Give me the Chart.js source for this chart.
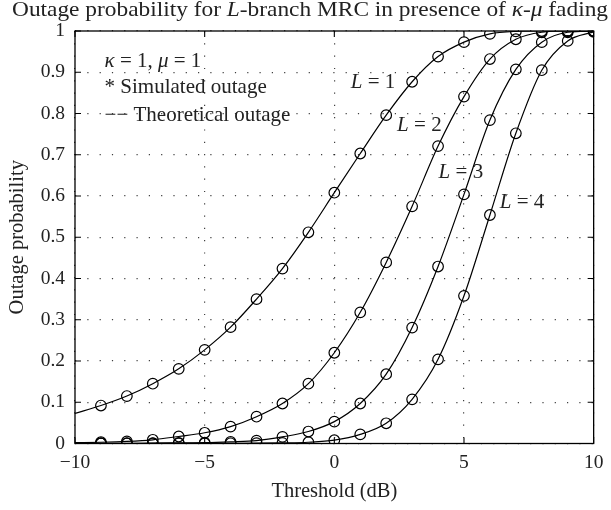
<!DOCTYPE html>
<html>
<head>
<meta charset="utf-8">
<script src="https://cdn.jsdelivr.net/npm/chart.js@4.4.1/dist/chart.umd.min.js"></script>
<style>
  html, body { margin: 0; padding: 0; background: #fff; }
  #wrap { width: 611px; height: 510px; }
</style>
</head>
<body>
<div id="wrap"><canvas id="c" width="611" height="510"></canvas></div>
<script>
// ---- data ----
const thresholds = [-10,-9,-8,-7,-6,-5,-4,-3,-2,-1,0,1,2,3,4,5,6,7,8,9,10];
const outageL1 = [0.073,0.092,0.115,0.145,0.181,0.227,0.282,0.350,0.424,0.512,0.608,0.703,0.796,0.877,0.938,0.973,0.993,0.999,1.0,1.0,1.0];
const outageL2 = [0.002,0.003,0.005,0.009,0.017,0.026,0.041,0.065,0.097,0.145,0.220,0.318,0.439,0.575,0.721,0.841,0.932,0.980,0.997,1.0,1.0];
const outageL3 = [0.0003,0.0004,0.0006,0.001,0.0015,0.002,0.004,0.007,0.016,0.029,0.053,0.097,0.168,0.281,0.429,0.604,0.784,0.907,0.973,0.997,1.0];
const outageL4 = [0.0,0.0,0.0,0.0001,0.0002,0.0003,0.0005,0.0008,0.0015,0.003,0.008,0.022,0.049,0.107,0.204,0.358,0.554,0.752,0.905,0.976,0.998];
const xTicks = [-10,-5,0,5,10];
const xTickLabels = ['\u221210','\u22125','0','5','10'];
const yTicks = [0,0.1,0.2,0.3,0.4,0.5,0.6,0.7,0.8,0.9,1];
const yTickLabels = ['0','0.1','0.2','0.3','0.4','0.5','0.6','0.7','0.8','0.9','1'];
const series = [outageL1, outageL2, outageL3, outageL4];
const curveLabels = ['L = 1','L = 2','L = 3','L = 4'];
// label anchor positions in data units (threshold dB, probability)
const curveLabelX = [1.49, 3.28, 4.88, 7.24];
const curveLabelY = [0.876, 0.772, 0.656, 0.585];
const legendX = -8.86;
const legendY = [0.925, 0.862, 0.796];

const FONT = '"Liberation Serif", "Times New Roman", serif';

const datasets = [];
series.forEach((vals, k) => {
  datasets.push({
    label: 'Theoretical ' + curveLabels[k],
    data: thresholds.map((x, i) => ({x: x, y: vals[i]})),
    showLine: true,
    borderColor: '#000',
    borderWidth: 1.2,
    pointRadius: 0,
    cubicInterpolationMode: 'monotone',
    fill: false,
    order: 2
  });
});
series.forEach((vals, k) => {
  datasets.push({
    label: 'Simulated ' + curveLabels[k],
    data: thresholds.slice(1).map((x, i) => ({x: x, y: vals[i + 1]})),
    showLine: false,
    borderColor: '#000',
    backgroundColor: 'rgba(0,0,0,0)',
    borderWidth: 1.2,
    pointRadius: 5.3,
    pointStyle: 'circle',
    order: 1
  });
});

function drawSegs(ctx, segs, x, y, size, align, targetWidth, baseline) {
  let total = 0;
  const fonts = segs.map(s => (s[1] ? 'italic ' : '') + size + 'px ' + FONT);
  segs.forEach((s, i) => { ctx.font = fonts[i]; total += ctx.measureText(s[0]).width; });
  const sx = targetWidth ? targetWidth / total : 1;
  ctx.save();
  ctx.translate(x, y);
  ctx.scale(sx, 1);
  let cx = align === 'center' ? -total / 2 : 0;
  ctx.textAlign = 'left';
  ctx.textBaseline = baseline || 'middle';
  segs.forEach((s, i) => {
    ctx.font = fonts[i];
    ctx.fillText(s[0], cx, 0);
    cx += ctx.measureText(s[0]).width;
  });
  ctx.restore();
}

const decorPlugin = {
  id: 'decor',
  afterDatasetsDraw(chart) {
    const {ctx, chartArea: a, scales: {x, y}} = chart;
    ctx.save();
    // frame
    ctx.strokeStyle = '#000';
    ctx.lineWidth = 1.3;
    ctx.setLineDash([]);
    ctx.strokeRect(a.left, a.top, a.right - a.left, a.bottom - a.top);
    // inward ticks on all four sides
    ctx.lineWidth = 1.1;
    ctx.beginPath();
    xTicks.forEach(v => {
      const px = x.getPixelForValue(v);
      ctx.moveTo(px, a.bottom); ctx.lineTo(px, a.bottom - 6);
      ctx.moveTo(px, a.top); ctx.lineTo(px, a.top + 6);
    });
    yTicks.forEach(v => {
      const py = y.getPixelForValue(v);
      ctx.moveTo(a.left, py); ctx.lineTo(a.left + 6, py);
      ctx.moveTo(a.right, py); ctx.lineTo(a.right - 6, py);
    });
    ctx.stroke();
    // curve labels
    ctx.fillStyle = '#222';
    curveLabels.forEach((t, k) => {
      const px = x.getPixelForValue(curveLabelX[k]);
      const py = y.getPixelForValue(curveLabelY[k]);
      drawSegs(ctx, [['L', true], [t.slice(1), false]], px, py, 21, 'center');
    });
    // legend text block
    const lx = x.getPixelForValue(legendX);
    drawSegs(ctx, [['\u03BA', true], [' = 1, ', false], ['\u03BC', true], [' = 1', false]], lx, y.getPixelForValue(legendY[0]), 21, 'left');
    drawSegs(ctx, [['* Simulated outage', false]], lx, y.getPixelForValue(legendY[1]), 21, 'left');
    drawSegs(ctx, [['\u2212\u2212 Theoretical outage', false]], lx, y.getPixelForValue(legendY[2]), 21, 'left');
    // chart title (mixed italic)
    drawSegs(ctx, [['Outage probability for ', false], ['L', true], ['-branch MRC in presence of ', false], ['\u03BA', true], ['-', false], ['\u03BC', true], [' fading', false]], 310, 16, 21, 'center', 596, 'alphabetic');
    ctx.restore();
  }
};

new Chart(document.getElementById('c'), {
  type: 'scatter',
  data: {datasets: datasets},
  options: {
    responsive: false,
    animation: false,
    events: [],
    layout: {padding: {top: 31, right: 11, bottom: 0, left: 0}},
    plugins: {legend: {display: false}, tooltip: {enabled: false}, title: {display: false}},
    scales: {
      x: {
        type: 'linear', min: -10, max: 10,
        afterFit(scale) { scale.height = 66.5; },
        afterBuildTicks(scale) { scale.ticks = xTicks.map(v => ({value: v})); },
        ticks: {
          padding: 7.6, color: '#222', font: {family: FONT, size: 19.5},
          callback: (v) => xTickLabels[xTicks.indexOf(v)]
        },
        grid: {color: 'rgba(0,0,0,0.75)', lineWidth: 1.2, drawTicks: false},
        border: {display: false, dash: [1.2, 11.1]},
        title: {display: true, text: 'Threshold (dB)', color: '#222', font: {family: FONT, size: 20.5}, padding: {top: 0, bottom: 6}}
      },
      y: {
        type: 'linear', min: 0, max: 1,
        afterFit(scale) { scale.width = 75; },
        afterBuildTicks(scale) { scale.ticks = yTicks.map(v => ({value: v})); },
        ticks: {
          padding: 10, color: '#222', font: {family: FONT, size: 19.5},
          callback: (v) => yTickLabels[yTicks.findIndex(t => Math.abs(t - v) < 1e-9)]
        },
        grid: {color: 'rgba(0,0,0,0.75)', lineWidth: 1.2, drawTicks: false},
        border: {display: false, dash: [1.2, 11.1]},
        title: {display: true, text: 'Outage probability', color: '#222', font: {family: FONT, size: 20.5}, padding: {top: 5.5, bottom: 0}}
      }
    }
  },
  plugins: [decorPlugin]
});
</script>
</body>
</html>
